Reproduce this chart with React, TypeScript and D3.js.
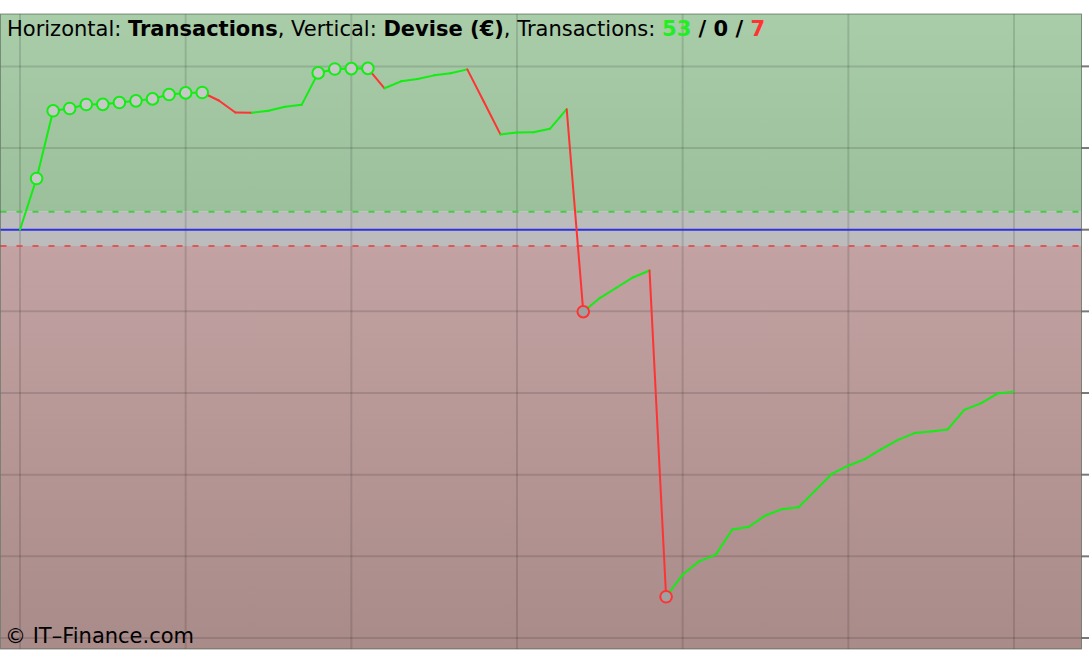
import React, { useEffect, useRef } from "react";
import * as d3 from "d3";

// equity curve, one value per transaction (0 = start)
const equity = [
  0, 62.7, 145.6, 148.4, 153.3, 153.5, 155.7, 157.8, 160.2, 165.5,
  167.5, 168, 158.2, 143.5, 143.2, 145.6, 150.5, 152.9, 192, 196.8,
  197.2, 197.6, 173.2, 181.7, 184.6, 189, 191.5, 196.3, 156.6, 116.7,
  119.1, 119.3, 123.7, 147.6, -100.4, -83.7, -71.1, -58.5, -50, -449.5,
  -422.3, -406.1, -397.9, -367.1, -363.8, -350, -342.2, -339.8, -319.5, -299.1,
  -289, -280.9, -268.7, -257.3, -249.1, -247.1, -244.6, -220.7, -212.6, -200.7,
  -198.3,
];
const yTicks = [-500, -400, -300, -200, -100, 0, 100, 200];
const xTicks = [0, 10, 20, 30, 40, 50, 60];
const bandHigh = 22;
const bandLow = -20;
const counts = { win: 53, even: 0, loss: 7 };

const W = 1090;
const H = 650;

const App: React.FC = () => {
  const ref = useRef<SVGSVGElement | null>(null);

  useEffect(() => {
    if (!ref.current) return;
    const svg = d3.select(ref.current);
    svg.selectAll("*").remove();

    const left = 0.5;
    const right = 1081.5;
    const top = 14;
    const bottom = 649;

    const x = d3.scaleLinear().domain([0, 60]).range([20, 1014]);
    const y = d3.scaleLinear().domain([0, -500]).range([229.7, 638]);

    const defs = svg.append("defs");
    const gGreen = defs
      .append("linearGradient")
      .attr("id", "gGreen")
      .attr("x1", 0)
      .attr("x2", 0)
      .attr("y1", 0)
      .attr("y2", 1);
    gGreen.append("stop").attr("offset", "0%").attr("stop-color", "#a9cca9");
    gGreen.append("stop").attr("offset", "100%").attr("stop-color", "#9bc09b");
    const gRed = defs
      .append("linearGradient")
      .attr("id", "gRed")
      .attr("x1", 0)
      .attr("x2", 0)
      .attr("y1", 0)
      .attr("y2", 1);
    gRed.append("stop").attr("offset", "0%").attr("stop-color", "#c2a2a2");
    gRed.append("stop").attr("offset", "100%").attr("stop-color", "#a98b89");

    // background zones
    svg
      .append("rect")
      .attr("x", left)
      .attr("y", top)
      .attr("width", right - left)
      .attr("height", y(bandHigh) - top)
      .attr("fill", "url(#gGreen)");
    svg
      .append("rect")
      .attr("x", left)
      .attr("y", y(bandHigh))
      .attr("width", right - left)
      .attr("height", y(bandLow) - y(bandHigh))
      .attr("fill", "#bcbcbc");
    svg
      .append("rect")
      .attr("x", left)
      .attr("y", y(bandLow))
      .attr("width", right - left)
      .attr("height", bottom - y(bandLow))
      .attr("fill", "url(#gRed)");

    // grid
    svg
      .append("g")
      .selectAll("line")
      .data(xTicks)
      .join("line")
      .attr("x1", (d) => x(d))
      .attr("x2", (d) => x(d))
      .attr("y1", top)
      .attr("y2", bottom)
      .attr("stroke", "rgba(0,0,0,0.12)")
      .attr("stroke-width", 2);
    svg
      .append("g")
      .selectAll("line")
      .data(yTicks.filter((d) => d !== 0))
      .join("line")
      .attr("x1", left)
      .attr("x2", right)
      .attr("y1", (d) => y(d))
      .attr("y2", (d) => y(d))
      .attr("stroke", "rgba(0,0,0,0.12)")
      .attr("stroke-width", 2);

    // right ticks
    svg
      .append("g")
      .selectAll("line")
      .data(yTicks)
      .join("line")
      .attr("x1", right)
      .attr("x2", 1089)
      .attr("y1", (d) => y(d))
      .attr("y2", (d) => y(d))
      .attr("stroke", "#7a7a7a")
      .attr("stroke-width", 2);

    // band lines
    svg
      .append("line")
      .attr("x1", left)
      .attr("x2", right)
      .attr("y1", y(bandHigh))
      .attr("y2", y(bandHigh))
      .attr("stroke", "#44cc44")
      .attr("stroke-width", 2)
      .attr("stroke-dasharray", "6,10");
    svg
      .append("line")
      .attr("x1", left)
      .attr("x2", right)
      .attr("y1", y(bandLow))
      .attr("y2", y(bandLow))
      .attr("stroke", "#e05555")
      .attr("stroke-width", 2)
      .attr("stroke-dasharray", "6,10");
    svg
      .append("line")
      .attr("x1", left)
      .attr("x2", right)
      .attr("y1", y(0))
      .attr("y2", y(0))
      .attr("stroke", "#3030e0")
      .attr("stroke-width", 2);

    // frame
    svg
      .append("rect")
      .attr("x", left)
      .attr("y", top)
      .attr("width", right - left)
      .attr("height", bottom - top)
      .attr("fill", "none")
      .attr("stroke", "rgba(60,80,60,0.6)")
      .attr("stroke-width", 1);

    // equity segments, green up / red down
    const segs = d3.pairs(equity.map((v, i) => ({ i, v })));
    svg
      .append("g")
      .selectAll("line")
      .data(segs)
      .join("line")
      .attr("x1", (d) => x(d[0].i))
      .attr("y1", (d) => y(d[0].v))
      .attr("x2", (d) => x(d[1].i))
      .attr("y2", (d) => y(d[1].v))
      .attr("stroke", (d) => (d[1].v >= d[0].v ? "#11ee11" : "#ff3333"))
      .attr("stroke-width", 2)
      .attr("stroke-linecap", "round");

    // markers: new highs (green) and new lows (red)
    const marks: { i: number; v: number; kind: "hi" | "lo" }[] = [];
    let hi = 0;
    let lo = 0;
    equity.forEach((v, i) => {
      if (i === 0) return;
      if (v > hi) {
        hi = v;
        marks.push({ i, v, kind: "hi" });
      } else if (v < lo - 50) {
        lo = v;
        marks.push({ i, v, kind: "lo" });
      }
    });
    svg
      .append("g")
      .selectAll("circle")
      .data(marks)
      .join("circle")
      .attr("cx", (d) => x(d.i))
      .attr("cy", (d) => y(d.v))
      .attr("r", 5.8)
      .attr("fill", (d) => (d.kind === "hi" ? "#c8c8c8" : "#a0a0a0"))
      .attr("stroke", (d) => (d.kind === "hi" ? "#11ee11" : "#ff3333"))
      .attr("stroke-width", 2);

    // header
    const font = "'DejaVu Sans', 'Liberation Sans', sans-serif";
    const head = svg
      .append("text")
      .attr("x", 7)
      .attr("y", 36)
      .style("font-family", font)
      .style("font-size", "21px")
      .attr("fill", "#000");
    const parts: [string, boolean, string][] = [
      ["Horizontal: ", false, "#000"],
      ["Transactions", true, "#000"],
      [", Vertical: ", false, "#000"],
      ["Devise (€)", true, "#000"],
      [", Transactions: ", false, "#000"],
      [String(counts.win), true, "#22ee22"],
      [" / ", true, "#000"],
      [String(counts.even), true, "#000"],
      [" / ", true, "#000"],
      [String(counts.loss), true, "#ff3333"],
    ];
    parts.forEach(([t, b, c]) => {
      head
        .append("tspan")
        .attr("font-weight", b ? "bold" : "normal")
        .attr("fill", c)
        .text(t);
    });

    svg
      .append("text")
      .attr("x", 5)
      .attr("y", 643)
      .style("font-family", font)
      .style("font-size", "21px")
      .attr("fill", "#000")
      .text("© IT–Finance.com");
  }, []);

  return (
    <svg
      ref={ref}
      width={W}
      height={H}
      style={{ position: "fixed", left: 0, top: 0, background: "#fff", whiteSpace: "pre" }}
    />
  );
};

export default App;
